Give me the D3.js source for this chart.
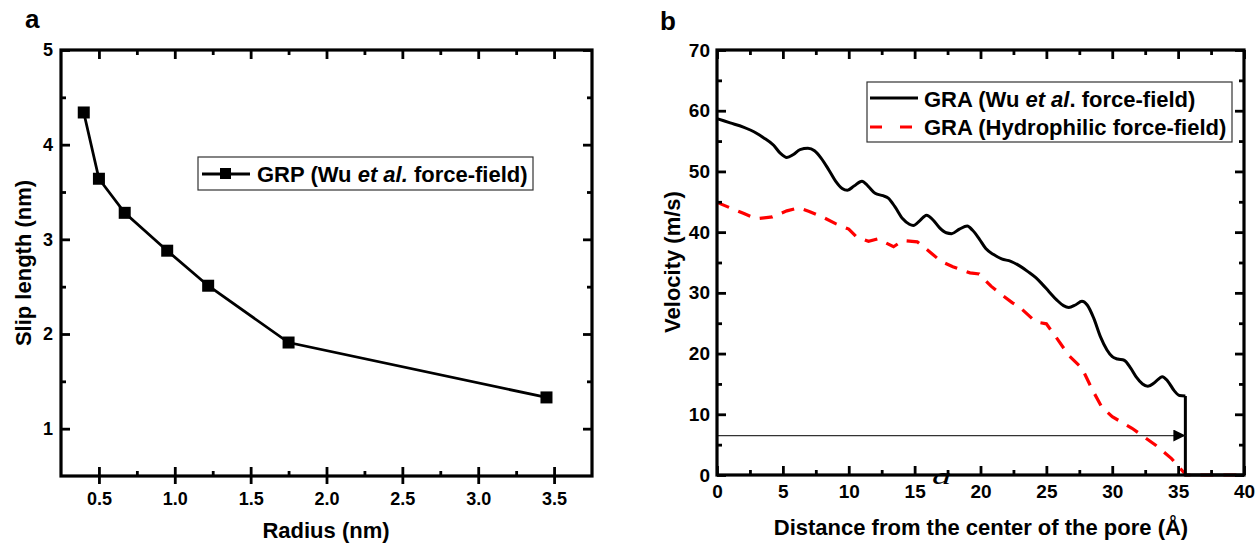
<!DOCTYPE html>
<html>
<head>
<meta charset="utf-8">
<script src="https://cdn.jsdelivr.net/npm/d3@7"></script>
<style>
body { margin: 0; background: #fff; }
svg { display: block; font-family: Arial, "Liberation Sans", sans-serif; }
.axis text { font-family: Arial, "Liberation Sans", sans-serif; font-weight: bold; fill: #000; }
.axis line { stroke: #000; stroke-width: 2.8; }
.axis path { display: none; }
.title { font-weight: bold; fill: #000; }
</style>
</head>
<body>
<svg id="chart" width="1257" height="544"></svg>
<script>
// Panel a: slip length vs radius
const radius = [0.4, 0.5, 0.67, 0.95, 1.22, 1.75, 3.45];
const slipLength = [4.34, 3.64, 3.28, 2.88, 2.51, 1.91, 1.33];
const aXTicks = [0.5, 1.0, 1.5, 2.0, 2.5, 3.0, 3.5];
const aXMinor = [0.75, 1.25, 1.75, 2.25, 2.75, 3.25];
const aYTicks = [1, 2, 3, 4, 5];
const aYMinor = [1.5, 2.5, 3.5, 4.5];

// Panel b: velocity profiles
const wuDist = [0, 1, 2, 3, 3.5, 4.3, 4.8, 5.3, 5.8, 6.3, 6.9, 7.4, 7.9, 8.5, 9.0, 9.5, 9.9, 10.4, 11.0, 11.5,
  12.0, 12.6, 13.0, 13.5, 14.1, 14.6, 14.9, 15.4, 15.9, 16.4, 16.9, 17.4, 17.8, 18.4, 19.0, 19.4, 19.9, 20.4,
  21.0, 21.6, 22.3, 23.0, 23.6, 24.2, 24.7, 25.2, 25.8, 26.3, 26.7, 27.2, 27.7, 28.1, 28.6, 29.1, 29.6, 30.0,
  30.4, 30.9, 31.4, 31.8, 32.3, 32.7, 33.2, 33.8, 34.2, 34.7, 35.1, 35.55];
const wuVel = [58.7, 58.0, 57.3, 56.3, 55.6, 54.3, 53.0, 52.3, 52.8, 53.6, 53.8, 53.4, 52.2, 50.2, 48.4, 47.2, 46.9, 47.6, 48.4, 47.5,
  46.4, 46.0, 45.6, 44.2, 42.2, 41.3, 41.1, 41.9, 42.8, 42.0, 40.7, 39.9, 39.75, 40.5, 41.0, 40.3, 38.9, 37.3,
  36.3, 35.6, 35.2, 34.4, 33.5, 32.5, 31.4, 30.2, 28.8, 27.9, 27.6, 28.0, 28.6, 28.0, 25.8, 22.8, 20.6, 19.5,
  19.1, 18.9, 17.6, 16.2, 15.0, 14.6, 15.2, 16.2, 15.5, 13.9, 13.1, 13.0];
const wuWallDist = [35.55, 35.55, 40];
const wuWallVel = [13.0, 0, 0];
const hydDist = [0, 1.0, 2.0, 3.0, 4.2, 5.3, 6.2, 7.0, 8.0, 9.0, 10.0, 10.6, 11.5, 12.2, 13.4, 14.1, 15.2, 16.0,
  17.0, 17.9, 19.2, 19.9, 20.8, 21.6, 22.4, 23.0, 24.2, 25.0, 25.8, 26.7, 27.7, 28.5, 29.2, 30.0, 31.5, 33.3,
  34.5, 35.6, 37, 40];
const hydVel = [44.9, 44.0, 43.1, 42.2, 42.5, 43.5, 44.0, 43.4, 42.5, 41.4, 40.5, 39.2, 38.5, 38.9, 37.6, 38.6, 38.4, 37.0,
  35.2, 34.3, 33.3, 33.1, 31.1, 29.7, 28.4, 27.6, 25.2, 24.9, 22.5, 19.7, 17.6, 14.0, 11.2, 9.6, 7.7, 4.9,
  2.7, 0.0, 0, 0];
const arrowDist = [0, 35.55];
const arrowVel = [6.5, 6.5];
const bXTicks = [0, 5, 10, 15, 20, 25, 30, 35, 40];
const bXMinor = [2.5, 7.5, 12.5, 17.5, 22.5, 27.5, 32.5, 37.5];
const bYTicks = [0, 10, 20, 30, 40, 50, 60, 70];
const bYMinor = [5, 15, 25, 35, 45, 55, 65];

const svg = d3.select('#chart');
svg.append('rect').attr('width', 1257).attr('height', 544).attr('fill', '#fff');

const xA = d3.scaleLinear().domain([0.25, 3.75]).range([61, 592]);
const yA = d3.scaleLinear().domain([0.5, 5]).range([476, 50]);
const xB = d3.scaleLinear().domain([0, 40]).range([717, 1244]);
const yB = d3.scaleLinear().domain([0, 70]).range([475, 50]);

// frame with mirrored inward ticks
function frame(x, y, o) {
  const [x0, x1] = x.range(), [y0, y1] = y.range();
  const add = (axis, tx, ty) => svg.append('g').attr('class', 'axis')
    .attr('transform', `translate(${tx},${ty})`).call(axis).attr('font-size', o.fs);

  add(d3.axisBottom(x).tickValues(o.xMajor).tickSize(-9).tickPadding(o.xPad).tickFormat(o.xFmt), 0, y0);
  if (o.cross) add(d3.axisBottom(x).tickValues(o.xMajor).tickSize(8).tickFormat(''), 0, y0);
  add(d3.axisBottom(x).tickValues(o.xMinor).tickSize(-5).tickFormat(''), 0, y0);
  add(d3.axisTop(x).tickValues(o.xMajor).tickSize(-9).tickFormat(''), 0, y1);
  add(d3.axisTop(x).tickValues(o.xMinor).tickSize(-5).tickFormat(''), 0, y1);
  add(d3.axisLeft(y).tickValues(o.yMajor).tickSize(-9).tickPadding(o.yPad).tickFormat(o.yFmt), x0, 0);
  add(d3.axisLeft(y).tickValues(o.yMinor).tickSize(-5).tickFormat(''), x0, 0);
  add(d3.axisRight(y).tickValues(o.yMajor).tickSize(-9).tickFormat(''), x1, 0);
  add(d3.axisRight(y).tickValues(o.yMinor).tickSize(-5).tickFormat(''), x1, 0);

  svg.append('rect').attr('x', x0).attr('y', y1).attr('width', x1 - x0).attr('height', y0 - y1)
    .attr('fill', 'none').attr('stroke', '#000').attr('stroke-width', 3.2);
}

// ---------- panel a ----------
const ptsA = radius.map((r, i) => [r, slipLength[i]]);
svg.append('path').datum(ptsA)
  .attr('d', d3.line().x(d => xA(d[0])).y(d => yA(d[1])))
  .attr('fill', 'none').attr('stroke', '#000').attr('stroke-width', 2.8);
svg.selectAll('.sq').data(ptsA).enter().append('rect')
  .attr('x', d => xA(d[0]) - 6).attr('y', d => yA(d[1]) - 6)
  .attr('width', 12).attr('height', 12).attr('fill', '#000');

frame(xA, yA, {
  xMajor: aXTicks, xMinor: aXMinor, yMajor: aYTicks, yMinor: aYMinor,
  xFmt: d3.format('.1f'), yFmt: d3.format('d'), fs: 18, xPad: 16, yPad: 8, cross: true
});

svg.append('text').attr('class', 'title').attr('x', 25).attr('y', 28).attr('font-size', 26).text('a');
svg.append('text').attr('class', 'title').attr('x', 326).attr('y', 538).attr('text-anchor', 'middle')
  .attr('font-size', 22).text('Radius (nm)');
svg.append('text').attr('class', 'title').attr('transform', 'translate(31,263) rotate(-90)')
  .attr('text-anchor', 'middle').attr('font-size', 22).text('Slip length (nm)');

// legend a
const legA = svg.append('g');
legA.append('rect').attr('x', 198).attr('y', 157).attr('width', 335).attr('height', 33)
  .attr('fill', '#fff').attr('stroke', '#333').attr('stroke-width', 1.2);
legA.append('line').attr('x1', 202).attr('x2', 250).attr('y1', 174).attr('y2', 174)
  .attr('stroke', '#000').attr('stroke-width', 2.8);
legA.append('rect').attr('x', 220).attr('y', 168).attr('width', 11).attr('height', 11).attr('fill', '#000');
const tA = legA.append('text').attr('class', 'title').attr('x', 257).attr('y', 182).attr('font-size', 22);
tA.append('tspan').text('GRP (Wu ');
tA.append('tspan').attr('font-style', 'italic').text('et al.');
tA.append('tspan').text(' force-field)');

// ---------- panel b ----------
svg.append('text').attr('transform', 'translate(932,484) scale(1.6,1)')
  .attr('font-family', '"Liberation Serif", "DejaVu Serif", serif')
  .attr('font-style', 'italic').attr('font-size', 24).attr('fill', '#000').text('a');

const lineB = d3.line().x(d => xB(d[0])).y(d => yB(d[1]));
svg.append('path').datum(hydDist.map((d, i) => [d, hydVel[i]]))
  .attr('d', lineB).attr('fill', 'none').attr('stroke', '#ff0000').attr('stroke-width', 3.2)
  .attr('stroke-dasharray', '13,10');
svg.append('path').datum(wuDist.map((d, i) => [d, wuVel[i]]))
  .attr('d', lineB.curve(d3.curveMonotoneX)).attr('fill', 'none').attr('stroke', '#000').attr('stroke-width', 3);
svg.append('path').datum(wuWallDist.map((d, i) => [d, wuWallVel[i]]))
  .attr('d', d3.line().x(d => xB(d[0])).y(d => yB(d[1]))).attr('fill', 'none').attr('stroke', '#000').attr('stroke-width', 3);

svg.append('defs').append('marker').attr('id', 'arrow')
  .attr('markerUnits', 'userSpaceOnUse').attr('markerWidth', 12).attr('markerHeight', 12)
  .attr('refX', 12).attr('refY', 6).attr('orient', 'auto')
  .append('path').attr('d', 'M0,0 L12,6 L0,12 Z').attr('fill', '#000');
svg.append('path').datum(arrowDist.map((d, i) => [d, arrowVel[i]]))
  .attr('d', d3.line().x(d => xB(d[0])).y(d => yB(d[1])))
  .attr('stroke', '#333').attr('stroke-width', 1.2).attr('marker-end', 'url(#arrow)');

frame(xB, yB, {
  xMajor: bXTicks, xMinor: bXMinor, yMajor: bYTicks, yMinor: bYMinor,
  xFmt: d3.format('d'), yFmt: d3.format('d'), fs: 19, xPad: 10, yPad: 7, cross: false
});

svg.append('text').attr('class', 'title').attr('x', 660).attr('y', 30).attr('font-size', 26).text('b');
svg.append('text').attr('class', 'title').attr('x', 981).attr('y', 535).attr('text-anchor', 'middle')
  .attr('font-size', 22).text('Distance from the center of the pore (Å)');
svg.append('text').attr('class', 'title').attr('transform', 'translate(680,262) rotate(-90)')
  .attr('text-anchor', 'middle').attr('font-size', 22).text('Velocity (m/s)');

// legend b
const legB = svg.append('g');
legB.append('rect').attr('x', 867).attr('y', 82).attr('width', 365).attr('height', 60)
  .attr('fill', '#fff').attr('stroke', '#333').attr('stroke-width', 1.2);
legB.append('line').attr('x1', 870).attr('x2', 918).attr('y1', 98).attr('y2', 98)
  .attr('stroke', '#000').attr('stroke-width', 3);
legB.append('line').attr('x1', 870).attr('x2', 918).attr('y1', 127).attr('y2', 127)
  .attr('stroke', '#ff0000').attr('stroke-width', 3.2).attr('stroke-dasharray', '12,18');
const tB1 = legB.append('text').attr('class', 'title').attr('x', 924).attr('y', 107).attr('font-size', 22);
tB1.append('tspan').text('GRA (Wu ');
tB1.append('tspan').attr('font-style', 'italic').text('et al');
tB1.append('tspan').text('. force-field)');
legB.append('text').attr('class', 'title').attr('x', 924).attr('y', 135).attr('font-size', 22)
  .text('GRA (Hydrophilic force-field)');
</script>
</body>
</html>
